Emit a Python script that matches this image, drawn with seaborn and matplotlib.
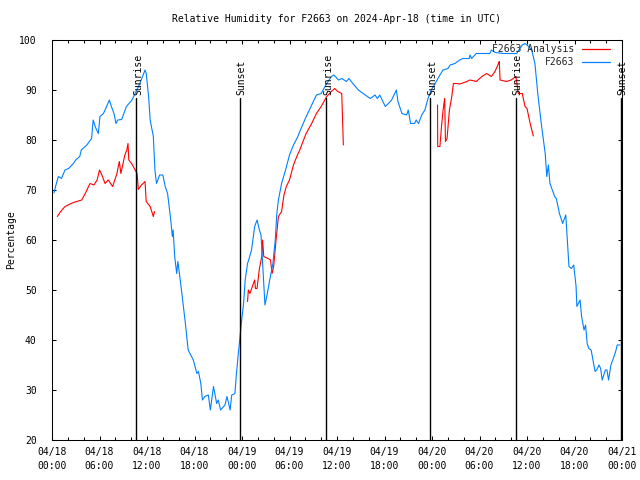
import numpy as np
import pandas as pd
import matplotlib
matplotlib.use("Agg")
import matplotlib.pyplot as plt
import matplotlib.dates as mdates
from matplotlib.lines import Line2D
import seaborn as sns

# ---------------- data (hours after 2024-04-18 00:00 UTC) ----------------
obs_hours = [0.25, 0.5, 0.8, 1.2, 1.64, 2.1, 2.7, 3.0, 3.5, 3.7, 4.4, 5.0, 5.2, 5.5, 5.85,
             6.06, 6.5, 6.9, 7.24, 7.5, 7.83, 8.08, 8.3, 8.8, 9.4, 10.1, 10.7, 11.1, 11.75,
             11.9, 12.2, 12.4, 12.8, 13.0, 13.2, 13.6, 14.0, 14.3, 14.6, 14.8, 15.0, 15.2,
             15.3, 15.5, 15.75, 15.9, 16.2, 16.4, 16.8, 17.2, 17.85, 18.3, 18.5, 18.8, 19.0,
             19.3, 19.75, 20.0, 20.4, 20.8, 21.0, 21.3, 21.85, 22.1, 22.5, 22.7, 23.1, 23.3,
             23.5, 23.75, 23.96, 24.2, 24.4, 24.7, 24.9, 25.2, 25.6, 25.9, 26.2, 26.4, 26.6,
             26.9, 27.2, 27.5, 27.9, 28.2, 28.4, 28.6, 29.0, 29.5, 30.0, 30.5, 31.0, 31.3,
             32.0, 32.6, 33.4, 34.0, 34.7, 35.3, 35.6, 36.2, 36.6, 37.2, 37.5, 38.0, 38.7,
             39.3, 40.2, 40.8, 41.1, 41.4, 42.1, 42.5, 42.9, 43.5, 43.7, 44.2, 44.8, 45.0,
             45.3, 45.8, 46.0, 46.3, 46.7, 47.1, 47.5, 47.9, 48.4, 49.0, 49.4, 50.0, 50.3,
             50.9, 51.5, 51.9, 52.7, 52.8, 53.0, 53.6, 55.3, 55.5, 56.0, 57.0, 58.7, 59.1,
             59.4, 59.75, 60.0, 60.6, 61.0, 61.2, 61.4, 61.8, 62.3, 62.5, 62.7, 62.9, 63.5,
             63.7, 64.1, 64.5, 64.9, 65.1, 65.3, 65.6, 65.9, 66.2, 66.3, 66.7, 66.9, 67.2,
             67.4, 67.6, 67.8, 68.1, 68.6, 68.8, 69.1, 69.3, 69.5, 69.9, 70.1, 70.3, 70.6,
             70.9, 71.2, 71.4, 71.75]
obs_values = [69.4, 71.0, 72.7, 72.3, 74.0, 74.3, 75.3, 76.0, 76.7, 78.0, 79.0, 80.3, 84.0, 82.5, 81.3,
              84.7, 85.3, 86.7, 88.0, 86.7, 85.3, 83.3, 84.0, 84.1, 86.7, 88.0, 90.0, 91.3, 94.0,
              93.3, 88.7, 84.0, 80.7, 74.0, 71.3, 73.0, 73.0, 70.7, 69.3, 66.7, 64.0, 60.7,
              62.0, 56.7, 53.3, 55.7, 52.0, 49.3, 44.0, 38.0, 36.0, 33.3, 33.7, 31.3, 28.0,
              28.7, 29.0, 26.0, 30.7, 27.3, 28.0, 26.0, 27.0, 28.7, 26.0, 29.0, 29.3, 33.3,
              36.7, 40.7, 44.0, 47.3, 52.0, 55.3, 56.3, 58.0, 62.7, 64.0, 62.0, 61.0, 55.3,
              47.0, 49.3, 52.0, 55.3, 60.0, 65.3, 68.0, 71.3, 74.0, 77.0, 79.0, 80.5, 81.7,
              84.3, 86.3, 89.0, 89.3, 91.3, 92.7, 93.0, 92.0, 92.3, 91.7, 92.3, 91.3, 90.0,
              89.3, 88.3, 89.0, 88.3, 89.0, 86.7, 87.3, 88.0, 90.0, 87.7, 85.3, 85.0, 86.0,
              83.3, 83.3, 84.0, 83.3, 85.0, 86.0, 88.3, 90.0, 91.3, 93.0, 94.0, 94.3, 95.0,
              95.3, 96.0, 96.3, 96.3, 97.0, 96.3, 97.3, 97.3, 98.0, 97.5, 97.3, 97.3, 98.3,
              99.0, 99.3, 99.0, 98.0, 95.3, 92.0, 88.7, 83.3, 77.3, 72.7, 75.0, 71.3, 68.7,
              68.3, 65.3, 63.3, 65.0, 60.0, 54.7, 54.3, 55.0, 50.7, 46.7, 48.0, 44.7, 42.0,
              43.0, 39.3, 38.3, 38.0, 33.7, 34.0, 35.0, 34.3, 32.0, 34.0, 34.0, 32.0, 35.0,
              36.3, 37.7, 39.0, 39.0]

ana_seg1_hours = [0.67, 1.1, 1.64, 2.7, 3.75, 4.2, 4.8, 5.3, 5.7, 6.0, 6.3, 6.7, 7.1, 7.66, 8.2,
                  8.5, 8.7, 9.2, 9.45, 9.6, 9.7, 10.06, 10.5, 10.75, 10.9, 11.3, 11.75, 11.9,
                  12.4, 12.8, 12.95]
ana_seg1_values = [64.7, 65.7, 66.7, 67.5, 68.0, 69.3, 71.3, 71.0, 72.0, 74.0, 73.0, 71.3, 72.0, 70.7, 73.3,
                   75.7, 73.3, 77.0, 78.0, 79.3, 76.0, 75.3, 74.0, 73.3, 70.1, 71.0, 71.7, 67.7,
                   66.7, 64.7, 65.7]
ana_seg2_hours = [24.7, 24.8, 25.0, 25.6, 25.7, 25.9, 26.2, 26.5, 26.6, 26.75, 27.3, 27.6, 27.8,
                  28.0, 28.3, 28.6, 29.0, 29.3, 29.6, 30.0, 30.5, 31.0, 31.3, 31.7, 32.1, 32.8,
                  33.4, 34.0, 34.7, 35.3, 35.7, 36.1, 36.6, 36.7, 36.8]
ana_seg2_values = [47.7, 50.0, 49.3, 52.0, 50.3, 50.3, 54.3, 56.7, 60.0, 56.7, 56.3, 56.0, 53.3,
                   54.7, 60.0, 64.7, 65.7, 69.0, 70.7, 72.0, 75.0, 77.0, 78.0, 79.7, 81.3, 83.3,
                   85.3, 86.7, 88.7, 89.7, 90.3, 89.7, 89.3, 84.3, 79.0]
ana_seg3_hours = [48.7, 48.72, 49.0, 49.2, 49.4, 49.6, 49.7, 49.9, 50.2, 50.5, 50.7, 51.1, 51.5,
                  52.4, 52.8, 53.6, 54.3, 54.9, 55.5, 55.96, 56.4, 56.5, 56.6, 57.4, 58.0, 58.6,
                  58.9, 59.4, 59.75, 60.0, 60.4, 60.8]
ana_seg3_values = [87.0, 78.7, 78.7, 82.7, 86.0, 88.3, 79.7, 80.3, 86.0, 88.7, 91.3, 91.3, 91.2,
                   91.7, 92.0, 91.7, 92.7, 93.3, 92.7, 93.7, 95.3, 95.7, 92.0, 91.7, 92.0, 92.7,
                   89.3, 89.3, 86.7, 86.3, 83.3, 80.8]

sun_labels = ["Sunrise", "Sunset", "Sunrise", "Sunset", "Sunrise", "Sunset"]
sun_hours = [10.65, 23.75, 34.65, 47.8, 58.6, 71.9]

series_names = ["F2663 Analysis", "F2663"]
series_colors = ["#ff0000", "#0080ff"]
title = "Relative Humidity for F2663 on 2024-Apr-18 (time in UTC)"
ylabel = "Percentage"
start = pd.Timestamp("2024-04-18 00:00")
end = pd.Timestamp("2024-04-21 00:00")

def to_time(hours):
    return start + pd.to_timedelta(np.asarray(hours), unit="h")

frames = []
for i, (h, v) in enumerate([(ana_seg1_hours, ana_seg1_values),
                            (ana_seg2_hours, ana_seg2_values),
                            (ana_seg3_hours, ana_seg3_values)]):
    frames.append(pd.DataFrame({"time": to_time(h), "value": v,
                                "series": series_names[0], "seg": f"a{i}"}))
frames.append(pd.DataFrame({"time": to_time(obs_hours), "value": obs_values,
                            "series": series_names[1], "seg": "o0"}))
df = pd.concat(frames, ignore_index=True)

# ---------------- style ----------------
sns.set_theme(style="white")
FONT = ["DejaVu Sans Mono", "DejaVu Sans"]
plt.rcParams.update({
    "font.family": FONT,
    "font.size": 7,
    "axes.edgecolor": "black",
    "axes.linewidth": 0.75,
    "xtick.direction": "in", "ytick.direction": "in",
    "xtick.top": True, "xtick.bottom": True,
    "ytick.left": True, "ytick.right": True,
    "xtick.major.size": 3.2, "ytick.major.size": 3.2,
    "xtick.minor.size": 2.2, "ytick.minor.size": 2.2,
    "xtick.major.width": 0.75, "ytick.major.width": 0.75,
    "xtick.minor.width": 0.75,
    "xtick.color": "black", "ytick.color": "black",
})

fig = plt.figure(figsize=(6.4, 4.8), dpi=100)
ax = fig.add_axes([52 / 640, 1 - 440 / 480, 570 / 640, 400 / 480])

for name, color in zip(series_names, series_colors):
    sub = df[df["series"] == name]
    sns.lineplot(data=sub, x="time", y="value", units="seg", estimator=None,
                 color=color, linewidth=0.8, ax=ax, legend=False, sort=False)

for lab, h in zip(sun_labels, sun_hours):
    t = to_time([h])[0]
    ax.plot([t, t], [20, 88.3], color="black", linewidth=1.0)
    ax.text(t + pd.Timedelta(hours=0.2), 89.0, lab, rotation=90, ha="center", va="bottom",
            fontsize=7, color="black")

ax.set_xlim(start, end)
ax.set_ylim(20, 100)
ax.set_yticks(np.arange(20, 101, 10))
ax.xaxis.set_major_locator(mdates.HourLocator(byhour=[0, 6, 12, 18]))
ax.xaxis.set_minor_locator(mdates.HourLocator(byhour=[2, 4, 8, 10, 14, 16, 20, 22]))
ax.xaxis.set_major_formatter(mdates.DateFormatter("%m/%d\n%H:%M"))
ax.tick_params(axis="both", which="major", labelsize=7, labelcolor="black")
ax.tick_params(axis="x", which="major", pad=5)
ax.tick_params(axis="y", which="major", pad=11)
ax.tick_params(axis="x", which="minor", top=True, bottom=True)
for lbl in ax.get_xticklabels():
    lbl.set_linespacing(1.45)

ax.set_xlabel("")
ax.set_ylabel(ylabel, fontsize=7, color="black")
ax.yaxis.set_label_coords((16 - 52) / 570, 0.5)

fig.text(337 / 640, 1 - 19 / 480, title, ha="center", va="center", fontsize=7, color="black")

handles = [Line2D([], [], color=c, linewidth=0.9) for c in series_colors]
ax.legend(handles, series_names, loc="upper right", markerfirst=False, frameon=False,
          bbox_to_anchor=(610 / 640, 1 - 44 / 480), bbox_transform=fig.transFigure,
          borderaxespad=0, borderpad=0, handlelength=2.9, handletextpad=0.8,
          labelspacing=0.3, fontsize=7)

fig.savefig("out.png", dpi=100)
